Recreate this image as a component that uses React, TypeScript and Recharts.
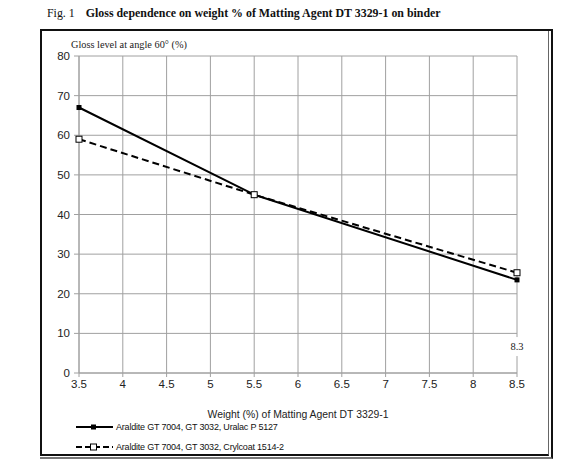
import React from 'react';
import { LineChart, Line, XAxis, YAxis, CartesianGrid, Legend, ReferenceDot } from 'recharts';

const weights = [3.5, 5.5, 8.5];
const uralacGloss = [67, 45, 23.5];
const crylcoatGloss = [59, 45, 25.3];
const xTicks = [3.5, 4, 4.5, 5, 5.5, 6, 6.5, 7, 7.5, 8, 8.5];
const yTicks = [0, 10, 20, 30, 40, 50, 60, 70, 80];
const seriesNames = ['Araldite GT 7004, GT 3032, Uralac P 5127', 'Araldite GT 7004, GT 3032, Crylcoat 1514-2'];
const annotationText = '8.3';
const annotationAt = { x: 8.5, y: 6.8 };

const data = weights.map((w, i) => ({ w, a: uralacGloss[i], b: crylcoatGloss[i] }));

const FilledSquare = (props: any) => {
  const { cx, cy } = props;
  if (cx == null || cy == null) return null;
  return <rect x={cx - 2.5} y={cy - 2.5} width={5} height={5} fill="#000" stroke="none" />;
};
const OpenSquare = (props: any) => {
  const { cx, cy } = props;
  if (cx == null || cy == null) return null;
  return <rect x={cx - 3} y={cy - 3} width={6} height={6} fill="#fff" stroke="#000" strokeWidth={1} />;
};

const Annotation = (props: any) => {
  const { cx, cy } = props;
  if (cx == null || cy == null) return null;
  return (
    <g>
      <rect x={cx - 12} y={cy - 9} width={24} height={19} fill="#fff" />
      <text x={cx} y={cy + 4} textAnchor="middle" fontFamily="'Liberation Serif', serif" fontSize={10.5} fill="#222">
        {annotationText}
      </text>
    </g>
  );
};

const LegendContent = () => (
  <div style={{ fontFamily: "'Liberation Sans', Arial, sans-serif", fontSize: 9, letterSpacing: -0.2, color: '#111' }}>
    <div style={{ display: 'flex', alignItems: 'center', height: 20 }}>
      <svg width={38} height={10} style={{ marginRight: 2 }}>
        <line x1={0} y1={5} x2={37} y2={5} stroke="#000" strokeWidth={2} />
        <rect x={15} y={2.5} width={5} height={5} fill="#000" />
      </svg>
      <span>{seriesNames[0]}</span>
    </div>
    <div style={{ display: 'flex', alignItems: 'center', height: 20 }}>
      <svg width={38} height={10} style={{ marginRight: 2 }}>
        <line x1={0} y1={5} x2={37} y2={5} stroke="#000" strokeWidth={2} strokeDasharray="6 3" />
        <rect x={14.5} y={2} width={6} height={6} fill="#fff" stroke="#000" strokeWidth={1} />
      </svg>
      <span>{seriesNames[1]}</span>
    </div>
  </div>
);

export default function App() {
  return (
    <div style={{ position: 'absolute', left: 0, top: 0, width: 565, height: 468, background: '#fff' }}>
      <div
        style={{
          position: 'absolute',
          left: 47,
          top: 6,
          fontFamily: "'Liberation Serif', 'Times New Roman', serif",
          fontSize: 11.9,
          color: '#111',
          whiteSpace: 'nowrap',
        }}
      >
        <span>Fig. 1</span>
        <span style={{ fontWeight: 'bold', marginLeft: 11 }}>
          Gloss dependence on weight % of Matting Agent DT 3329-1 on binder
        </span>
      </div>
      <div
        style={{
          position: 'absolute',
          left: 71,
          top: 39,
          fontFamily: "'Liberation Serif', 'Times New Roman', serif",
          fontSize: 10.3,
          color: '#222',
          whiteSpace: 'nowrap',
        }}
      >
        Gloss level at angle 60° (%)
      </div>
      <div style={{ position: 'absolute', left: 0, top: 0 }}>
        <LineChart width={565} height={468} data={data} margin={{ top: 56, right: 48, bottom: 50, left: 39 }}>
          <CartesianGrid stroke="#a0a0a0" strokeWidth={1} horizontal vertical />
          <XAxis
            dataKey="w"
            type="number"
            domain={[3.5, 8.5]}
            ticks={xTicks}
            interval={0}
            height={45}
            stroke="#a0a0a0"
            tickSize={4}
            tickMargin={3}
            tick={{ fill: '#222', fontSize: 11.5, fontFamily: "'Liberation Sans', Arial, sans-serif" }}
            label={{
              value: 'Weight (%) of Matting Agent DT 3329-1',
              position: 'insideBottom',
              offset: 0,
              fill: '#222',
              fontSize: 10.4,
              fontFamily: "'Liberation Sans', Arial, sans-serif",
            }}
          />
          <YAxis
            type="number"
            domain={[0, 80]}
            ticks={yTicks}
            interval={0}
            width={40}
            stroke="#a0a0a0"
            tickSize={5}
            tickMargin={4}
            tick={{ fill: '#222', fontSize: 11.5, fontFamily: "'Liberation Sans', Arial, sans-serif" }}
          />
          <ReferenceDot x={annotationAt.x} y={annotationAt.y} r={0} shape={(p: any) => <Annotation {...p} />} />
          <Line
            dataKey="a"
            stroke="#000"
            strokeWidth={2}
            dot={(p: any) => <FilledSquare key={`a${p.index}`} {...p} />}
            isAnimationActive={false}
          />
          <Line
            dataKey="b"
            stroke="#000"
            strokeWidth={2}
            strokeDasharray="7 4"
            dot={(p: any) => <OpenSquare key={`b${p.index}`} {...p} />}
            isAnimationActive={false}
          />
          <Legend
            layout="vertical"
            align="center"
            verticalAlign="middle"
            content={<LegendContent />}
            wrapperStyle={{ left: 76, top: 417, width: 320, height: 40 }}
          />
        </LineChart>
      </div>
      <div
        style={{
          position: 'absolute',
          left: 40,
          top: 29,
          width: 506,
          height: 423,
          borderLeft: '2px solid #111',
          borderTop: '2px solid #111',
          borderBottom: '2px solid #111',
          borderRight: '1px solid #666',
          pointerEvents: 'none',
        }}
      />
      <div
        style={{
          position: 'absolute',
          left: 40,
          top: 29,
          width: 511,
          height: 426,
          borderTop: '2px solid #111',
          borderRight: '2px solid #111',
          borderBottom: '2px solid #777',
          pointerEvents: 'none',
        }}
      />
    </div>
  );
}
